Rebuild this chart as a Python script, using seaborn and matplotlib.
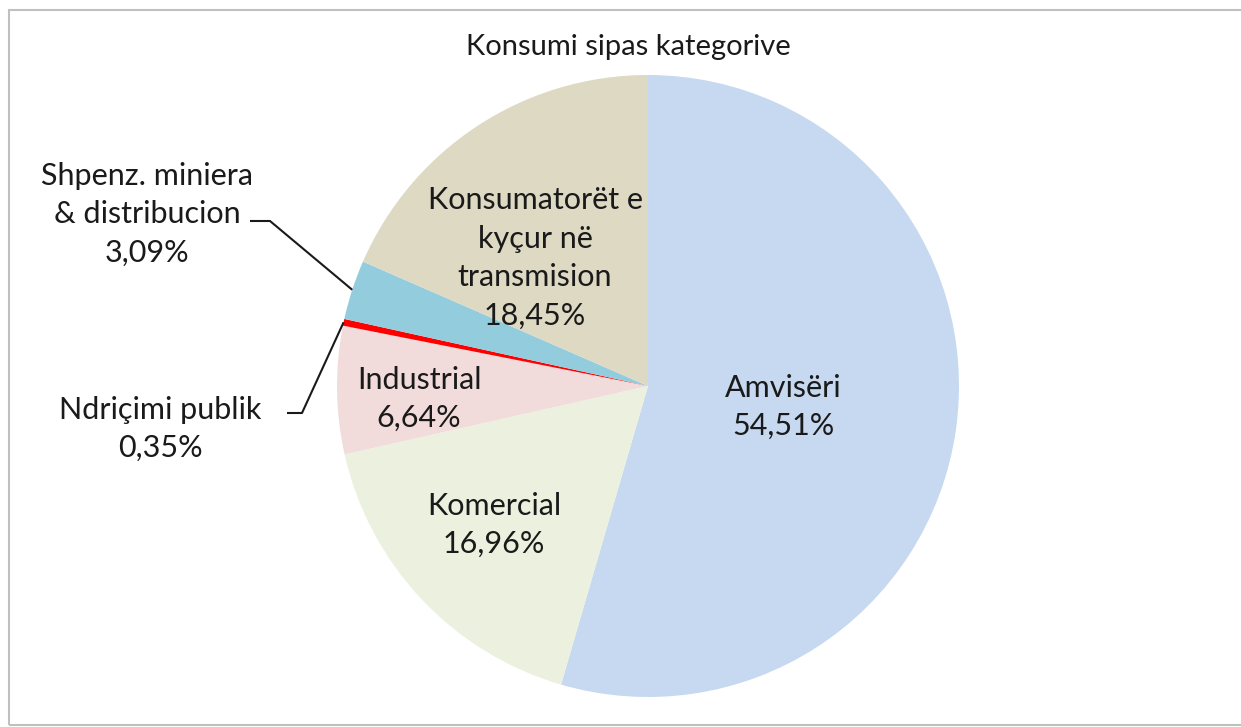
import numpy as np
import matplotlib
matplotlib.use("Agg")
import matplotlib.pyplot as plt
import seaborn as sns
from matplotlib.patches import Rectangle

# data
categories = ["Amvisëri", "Komercial", "Industrial", "Ndriçimi publik",
              "Shpenz. miniera\n& distribucion", "Konsumatorët e\nkyçur në\ntransmision"]
shares = [54.51, 16.96, 6.64, 0.35, 3.09, 18.45]
colors = ["#C6D9F0", "#EBF1DE", "#F2DCDB", "#FF0000", "#93CDDD", "#DDD9C3"]
title = "Konsumi sipas kategorive"

sns.set_theme(style="white")
plt.rcParams["font.family"] = ["Lato", "DejaVu Sans"]

W, H = 1241, 727
fig = plt.figure(figsize=(W / 100, H / 100), dpi=100)
ax = fig.add_axes([0, 0, 1, 1])

# pixel coords, y down -> counterclock=True looks clockwise on screen
cx, cy, R = 648, 386, 311
wedges, _ = ax.pie(shares, colors=colors, startangle=-90, counterclock=True,
                   center=(cx, cy), radius=R, frame=True,
                   wedgeprops=dict(linewidth=0))
ax.set_xlim(0, W)
ax.set_ylim(H, 0)
ax.set_aspect("equal")
ax.axis("off")

def fmt(v):
    return f"{v:.2f}".replace(".", ",") + "%"

txt = dict(fontsize=22, color="#1a1a1a", ha="center", va="center", linespacing=1.45)

# inside labels (layout positions)
inside = {0: (783, 407), 1: (494, 525), 2: (419, 399), 5: (535, 258)}
for i, (x, y) in inside.items():
    ax.text(x, y, f"{categories[i]}\n{fmt(shares[i])}", **txt)

# outside labels with leader lines
outside = {4: ((147, 214), (250, 221), (270, 221)),
           3: ((160, 429), (287, 413), (302, 413))}
for i, (pos, p0, p1) in outside.items():
    ax.text(pos[0], pos[1], f"{categories[i]}\n{fmt(shares[i])}", **txt)
    w = wedges[i]
    ang = np.deg2rad((w.theta1 + w.theta2) / 2)
    ex, ey = cx + R * np.cos(ang), cy + R * np.sin(ang)
    ax.plot([p0[0], p1[0], ex], [p0[1], p1[1], ey], color="#1a1a1a", lw=1.5,
            solid_capstyle="butt")

ax.text(628, 47, title, fontsize=21, color="#1a1a1a", ha="center", va="center")

# chart frame
fig.patches.append(Rectangle((9 / W, 2 / H), 1.2, 1 - 12 / H, transform=fig.transFigure,
                             fill=False, edgecolor="#C0C0C0", lw=1.5))

fig.savefig("out.png", dpi=100)
